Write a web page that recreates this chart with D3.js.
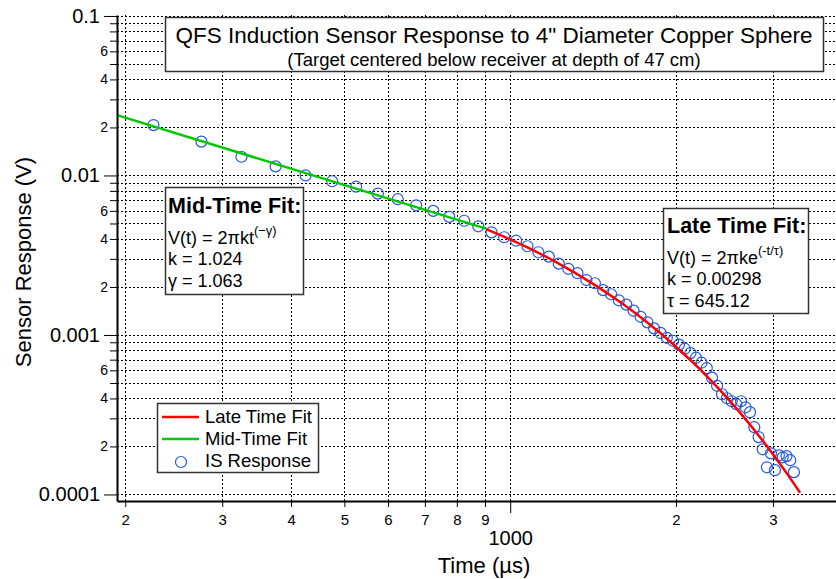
<!DOCTYPE html>
<html>
<head>
<meta charset="utf-8">
<script src="https://cdn.jsdelivr.net/npm/d3@7"></script>
<style>
  body { margin: 0; background: #fff; }
  text { font-family: "Liberation Sans", Arial, sans-serif; fill: #000; }
</style>
</head>
<body>
<svg id="chart" width="836" height="579"></svg>
<script>
// IS response samples, time in microseconds
var timeUs = [225, 275, 325, 375, 425, 475, 525, 575, 625, 675,
  725, 775, 825, 875, 925, 975, 1025, 1075, 1125, 1175,
  1225, 1275, 1325, 1375, 1425, 1475, 1525, 1575, 1625, 1675,
  1725, 1775, 1825, 1875, 1925, 1975, 2025, 2075, 2125, 2175,
  2225, 2275, 2325, 2375, 2425, 2475, 2525, 2575, 2625, 2675,
  2725, 2775, 2825, 2875, 2925, 2975, 3025, 3075, 3125, 3175,
  3225, 3275];
var responseV = [0.0207, 0.0163, 0.0131, 0.0114, 0.0100, 0.0092, 0.0085, 0.0077, 0.0071, 0.0065,
  0.0060, 0.0055, 0.0052, 0.0048, 0.0044, 0.0041, 0.0039, 0.0036, 0.0033, 0.0031,
  0.0028, 0.0026, 0.00244, 0.00221, 0.00211, 0.00191, 0.00180, 0.00165, 0.00155, 0.00142,
  0.00130, 0.00120, 0.00110, 0.00103, 0.00096, 0.00092, 0.00087, 0.00082, 0.00077, 0.00072,
  0.00067, 0.00062, 0.00054, 0.00048, 0.000425, 0.000401, 0.000384, 0.000368, 0.000384, 0.000352,
  0.000328, 0.000264, 0.000229, 0.000192, 0.000148, 0.000181, 0.000142, 0.000176, 0.000171, 0.000174,
  0.000164, 0.000138];

// Mid-time fit (straight on log-log)
var midFitT = [193.2, 904];
var midFitV = [0.0239, 0.00464];

// Late time fit
var lateFitT = [904, 1000, 1200, 1400, 1600, 1800, 2000, 2200, 2400, 2600, 2800, 3000, 3200, 3360];
var lateFitV = [0.004611, 0.003974, 0.002915, 0.002138, 0.001568, 0.001150, 0.000844, 0.000619,
  0.000454, 0.000333, 0.000244, 0.000179, 0.0001313, 0.0001025];

// Axis ticks
var yMajor = [0.1, 0.01, 0.001, 0.0001];
var yMajorText = ['0.1', '0.01', '0.001', '0.0001'];
var yMinor = [0.09, 0.08, 0.07, 0.06, 0.05, 0.04, 0.03, 0.02,
  0.009, 0.008, 0.007, 0.006, 0.005, 0.004, 0.003, 0.002,
  0.0009, 0.0008, 0.0007, 0.0006, 0.0005, 0.0004, 0.0003, 0.0002];
var yMinorText = ['', '', '', '6', '', '4', '', '2',
  '', '', '', '6', '', '4', '', '2',
  '', '', '', '6', '', '4', '', '2'];
var xMajor = [1000];
var xMajorText = ['1000'];
var xMinor = [200, 300, 400, 500, 600, 700, 800, 900, 2000, 3000];
var xMinorText = ['2', '3', '4', '5', '6', '7', '8', '9', '2', '3'];

var plotLeft = 117, plotRight = 836, plotTop = 15, plotBottom = 501;

var svg = d3.select('#chart');

var x = d3.scaleLog().domain([193.2, 3905]).range([plotLeft, plotRight]);
var y = d3.scaleLog().domain([9.1e-5, 0.1014]).range([plotBottom, plotTop]);

// Dotted grid
var grid = svg.append('g').attr('class', 'grid')
  .style('stroke', '#000').style('stroke-width', 1).style('stroke-dasharray', '2,2');
grid.selectAll('.hgrid')
  .data(yMajor.concat(yMinor)).enter().append('line')
  .attr('x1', plotLeft).attr('x2', plotRight)
  .attr('y1', function(d) { return Math.round(y(d)) + 0.5; })
  .attr('y2', function(d) { return Math.round(y(d)) + 0.5; });
grid.selectAll('.vgrid')
  .data(xMajor.concat(xMinor)).enter().append('line')
  .attr('y1', plotTop).attr('y2', plotBottom)
  .attr('x1', function(d) { return Math.round(x(d)) + 0.5; })
  .attr('x2', function(d) { return Math.round(x(d)) + 0.5; });

// Data circles
svg.append('g').selectAll('circle')
  .data(timeUs.map(function(t, i) { return [t, responseV[i]]; }))
  .enter().append('circle')
  .attr('cx', function(d) { return x(d[0]); })
  .attr('cy', function(d) { return y(d[1]); })
  .attr('r', 5.5)
  .style('fill', 'none')
  .style('stroke', '#2457e0')
  .style('stroke-width', 1.2);

// Fit lines
var line = d3.line()
  .x(function(d) { return x(d[0]); })
  .y(function(d) { return y(d[1]); });

svg.append('path')
  .datum(midFitT.map(function(t, i) { return [t, midFitV[i]]; }))
  .attr('d', line)
  .style('fill', 'none').style('stroke', '#00c800').style('stroke-width', 2.5);

svg.append('path')
  .datum(lateFitT.map(function(t, i) { return [t, lateFitV[i]]; }))
  .attr('d', line.curve(d3.curveMonotoneX))
  .style('fill', 'none').style('stroke', '#ff0000').style('stroke-width', 2.5);

// Y axis
var yAxisMinor = svg.append('g').attr('transform', 'translate(' + plotLeft + ',0)')
  .call(d3.axisLeft(y).tickValues(yMinor).tickSize(7).tickSizeOuter(0).tickPadding(2)
    .tickFormat(function(d, i) { return yMinorText[i]; }));
yAxisMinor.select('.domain').remove();
yAxisMinor.selectAll('text').style('font-size', '14px').attr('font-family', null);

var yAxisMajor = svg.append('g').attr('transform', 'translate(' + plotLeft + ',0)')
  .call(d3.axisLeft(y).tickValues(yMajor).tickSize(13).tickSizeOuter(0).tickPadding(4)
    .tickFormat(function(d, i) { return yMajorText[i]; }));
yAxisMajor.selectAll('text').style('font-size', '20px').attr('font-family', null);

// X axis
var xAxisMinor = svg.append('g').attr('transform', 'translate(0,' + plotBottom + ')')
  .call(d3.axisBottom(x).tickValues(xMinor).tickSize(6).tickSizeOuter(0).tickPadding(7)
    .tickFormat(function(d, i) { return xMinorText[i]; }));
xAxisMinor.select('.domain').remove();
xAxisMinor.selectAll('text').style('font-size', '15px').attr('font-family', null);

var xAxisMajor = svg.append('g').attr('transform', 'translate(0,' + plotBottom + ')')
  .call(d3.axisBottom(x).tickValues(xMajor).tickSize(12).tickSizeOuter(0).tickPadding(18)
    .tickFormat(function(d, i) { return xMajorText[i]; }));
xAxisMajor.selectAll('text').style('font-size', '20px').attr('font-family', null);

svg.selectAll('.domain').style('stroke', '#000').style('stroke-width', 2);
svg.selectAll('.tick line').style('stroke', '#000');

// Axis titles
svg.append('text')
  .attr('transform', 'translate(23,262) rotate(-90)')
  .attr('text-anchor', 'middle')
  .attr('dy', '0.35em')
  .style('font-size', '22px')
  .text('Sensor Response (V)');

svg.append('text')
  .attr('x', 484).attr('y', 573)
  .attr('text-anchor', 'middle')
  .style('font-size', '22px')
  .text('Time (\u00b5s)');

// Title box
svg.append('rect')
  .attr('x', 165.5).attr('y', 17.5).attr('width', 658).attr('height', 54)
  .style('fill', '#fff').style('stroke', '#333').style('stroke-width', 1.5);
svg.append('text')
  .attr('x', 494).attr('y', 43)
  .attr('text-anchor', 'middle')
  .style('font-size', '22.5px')
  .text('QFS Induction Sensor Response to 4" Diameter Copper Sphere');
svg.append('text')
  .attr('x', 494).attr('y', 66)
  .attr('text-anchor', 'middle')
  .style('font-size', '18.5px')
  .text('(Target centered below receiver at depth of 47 cm)');

// Mid-time fit box
svg.append('rect')
  .attr('x', 165.5).attr('y', 187.5).attr('width', 138).attr('height', 107)
  .style('fill', '#fff').style('stroke', '#333').style('stroke-width', 1.5);
svg.append('text').attr('x', 168).attr('y', 213)
  .style('font-size', '21.5px').style('font-weight', 'bold').text('Mid-Time Fit:');
var midEq = svg.append('text').attr('x', 168).attr('y', 244).style('font-size', '18px');
midEq.append('tspan').text('V(t) = 2\u03c0kt');
midEq.append('tspan').attr('dy', -9).style('font-size', '13px').text('(\u2212\u03b3)');
svg.append('text').attr('x', 168).attr('y', 265).style('font-size', '18px').text('k = 1.024');
svg.append('text').attr('x', 168).attr('y', 287).style('font-size', '18px').text('\u03b3 = 1.063');

// Late time fit box
svg.append('rect')
  .attr('x', 663.5).attr('y', 208.5).attr('width', 145).attr('height', 105)
  .style('fill', '#fff').style('stroke', '#333').style('stroke-width', 1.5);
svg.append('text').attr('x', 667).attr('y', 233)
  .style('font-size', '21.5px').style('font-weight', 'bold').text('Late Time Fit:');
var lateEq = svg.append('text').attr('x', 667).attr('y', 264).style('font-size', '18px');
lateEq.append('tspan').text('V(t) = 2\u03c0ke');
lateEq.append('tspan').attr('dy', -9).style('font-size', '13px').text('(-t/\u03c4)');
svg.append('text').attr('x', 667).attr('y', 285).style('font-size', '18px').text('k = 0.00298');
svg.append('text').attr('x', 667).attr('y', 307).style('font-size', '18px').text('\u03c4 = 645.12');

// Legend
var legend = svg.append('g');
legend.append('rect')
  .attr('x', 157.5).attr('y', 403.5).attr('width', 161).attr('height', 69)
  .style('fill', '#fff').style('stroke', '#333').style('stroke-width', 1.5);
var legendItems = [
  {label: 'Late Time Fit', type: 'line', color: '#ff0000'},
  {label: 'Mid-Time Fit', type: 'line', color: '#00c800'},
  {label: 'IS Response', type: 'circle', color: '#2457e0'}
];
legendItems.forEach(function(item, i) {
  var cy = 417 + i * 22;
  if (item.type == 'line') {
    legend.append('line')
      .attr('x1', 162).attr('x2', 199).attr('y1', cy).attr('y2', cy)
      .style('stroke', item.color).style('stroke-width', 2.5);
  } else {
    legend.append('circle')
      .attr('cx', 181).attr('cy', cy + 1).attr('r', 5.5)
      .style('fill', 'none').style('stroke', item.color).style('stroke-width', 1.2);
  }
  legend.append('text')
    .attr('x', 205).attr('y', cy).attr('dy', '0.35em')
    .style('font-size', '18.5px')
    .text(item.label);
});
</script>
</body>
</html>
